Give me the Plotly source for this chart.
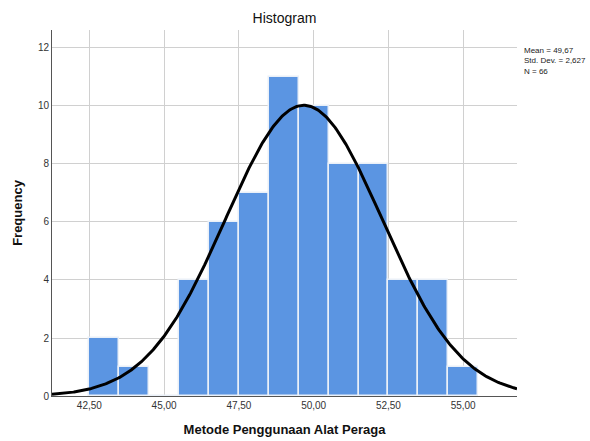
import numpy as np
import plotly.graph_objects as go

bin_starts = [42.5, 43.5, 44.5, 45.5, 46.5, 47.5, 48.5, 49.5, 50.5, 51.5, 52.5, 53.5, 54.5]
counts = [2, 1, 0, 4, 6, 7, 11, 10, 8, 8, 4, 4, 1]
bin_width = 1.0
mean = 49.67
std = 2.627
n = 66
x_ticks = [42.5, 45.0, 47.5, 50.0, 52.5, 55.0]
x_ticktext = ["42,50", "45,00", "47,50", "50,00", "52,50", "55,00"]
y_ticks = [0, 2, 4, 6, 8, 10, 12]

x_range = [41.25, 56.8]
y_range = [0, 12.62]

centers = [s + bin_width / 2 for s in bin_starts]
xs = np.linspace(x_range[0], x_range[1], 400)
ys = n * bin_width / (std * np.sqrt(2 * np.pi)) * np.exp(-0.5 * ((xs - mean) / std) ** 2)

fig = go.Figure()
fig.add_trace(go.Bar(x=centers, y=counts, width=bin_width,
                     marker=dict(color="#5B95E2", line=dict(color="#EAF0F8", width=1.5)),
                     hoverinfo="x+y"))
fig.add_trace(go.Scatter(x=xs, y=ys, mode="lines", line=dict(color="black", width=3),
                         hoverinfo="skip"))

fig.update_layout(
    width=590, height=441,
    margin=dict(l=52, r=73, t=30, b=45, autoexpand=False),
    plot_bgcolor="white", paper_bgcolor="white",
    showlegend=False,
    font=dict(family="Liberation Sans, Arial, sans-serif", color="#222"),
    title=dict(text="Histogram", x=0.5, xanchor="center", xref="paper",
               yref="container", y=1 - 18 / 441, yanchor="middle", automargin=False,
               font=dict(size=14, color="#111")),
    bargap=0,
)
fig.update_xaxes(range=x_range, tickvals=x_ticks, ticktext=x_ticktext, automargin=False,
                 showgrid=True, gridcolor="#D0D0D0", gridwidth=1,
                 showline=True, linecolor="#555", linewidth=1, zeroline=False,
                 ticks="", tickfont=dict(size=10, color="#333"),
                 title=dict(text="<b>Metode Penggunaan Alat Peraga</b>", font=dict(size=13, color="#111"), standoff=14))
fig.update_yaxes(range=y_range, tickvals=y_ticks, automargin=False,
                 showgrid=True, gridcolor="#D0D0D0", gridwidth=1,
                 showline=True, linecolor="#555", linewidth=1, zeroline=False,
                 ticks="", tickfont=dict(size=10, color="#333"),
                 title=dict(text="<b>Frequency</b>", font=dict(size=13, color="#111"), standoff=12))

fig.add_annotation(xref="paper", yref="paper", x=1.01, y=1 - 14 / 366, xanchor="left", yanchor="top",
                   align="left", showarrow=False,
                   text="Mean = 49,67<br>Std. Dev. = 2,627<br>N = 66",
                   font=dict(size=8, color="#222"))

fig.write_html("out.html", config={"displayModeBar": False})

with open("out.html", "r", encoding="utf-8") as f:
    html = f.read()
html = html.replace("<head>", "<head><style>html,body{margin:0;padding:0;overflow:hidden;}</style>", 1)
with open("out.html", "w", encoding="utf-8") as f:
    f.write(html)
